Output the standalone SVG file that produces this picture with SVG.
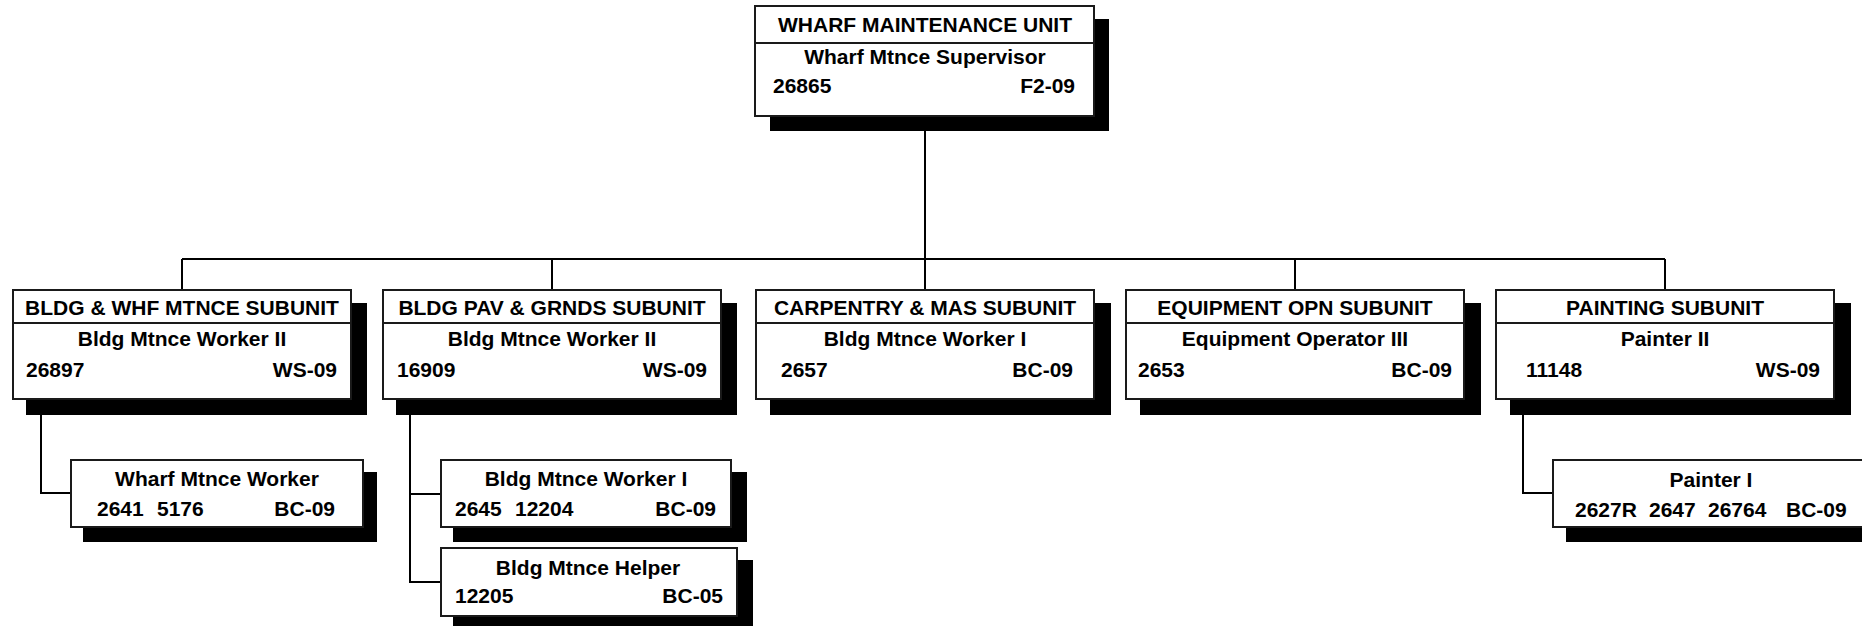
<svg xmlns="http://www.w3.org/2000/svg" width="1862" height="626" viewBox="0 0 1862 626">
<style>
.bg{fill:#ffffff}
.sh{fill:#000000}
.bx{fill:#ffffff;stroke:#1a1a1a;stroke-width:2}
.dv{stroke:#1a1a1a;stroke-width:2}
.cn{fill:none;stroke:#000000;stroke-width:2}
text{font-family:"Liberation Sans",Arial,sans-serif;font-weight:bold;font-size:21px;fill:#000000}
.c{text-anchor:middle}
.r{text-anchor:end}
</style>
<rect class="bg" x="0" y="0" width="1862" height="626"/>
<g id="connectors">
<path class="cn" d="M925 116 V259 M182 259 H1665 M182 259 V290 M552 259 V290 M925 259 V290 M1295 259 V290 M1665 259 V290"/>
<path class="cn" d="M41 399 V493 H71"/>
<path class="cn" d="M410 399 V582 H441 M410 494 H441"/>
<path class="cn" d="M1523 399 V493 H1553"/>
</g>
<g id="wharf-maintenance-unit">
<rect class="sh" x="770" y="19" width="339" height="112"/>
<rect class="bx" x="755" y="6" width="339" height="110"/>
<line class="dv" x1="755" y1="43" x2="1094" y2="43"/>
<text class="c" x="925" y="32">WHARF MAINTENANCE UNIT</text>
<text class="c" x="925" y="64">Wharf Mtnce Supervisor</text>
<text x="773" y="93">26865</text>
<text class="r" x="1075" y="93">F2-09</text>
</g>
<g id="bldg-whf-mtnce">
<rect class="sh" x="26" y="303" width="341" height="112"/>
<rect class="bx" x="13" y="290" width="338" height="109"/>
<line class="dv" x1="13" y1="323" x2="351" y2="323"/>
<text class="c" x="182" y="315">BLDG &amp; WHF MTNCE SUBUNIT</text>
<text class="c" x="182" y="346">Bldg Mtnce Worker II</text>
<text x="26" y="377">26897</text>
<text class="r" x="337" y="377">WS-09</text>
</g>
<g id="bldg-pav-grnds">
<rect class="sh" x="396" y="303" width="341" height="112"/>
<rect class="bx" x="383" y="290" width="338" height="109"/>
<line class="dv" x1="383" y1="323" x2="721" y2="323"/>
<text class="c" x="552" y="315">BLDG PAV &amp; GRNDS SUBUNIT</text>
<text class="c" x="552" y="346">Bldg Mtnce Worker II</text>
<text x="397" y="377">16909</text>
<text class="r" x="707" y="377">WS-09</text>
</g>
<g id="carpentry-mas">
<rect class="sh" x="770" y="303" width="341" height="112"/>
<rect class="bx" x="756" y="290" width="338" height="109"/>
<line class="dv" x1="756" y1="323" x2="1094" y2="323"/>
<text class="c" x="925" y="315">CARPENTRY &amp; MAS SUBUNIT</text>
<text class="c" x="925" y="346">Bldg Mtnce Worker I</text>
<text x="781" y="377">2657</text>
<text class="r" x="1073" y="377">BC-09</text>
</g>
<g id="equipment-opn">
<rect class="sh" x="1140" y="303" width="341" height="112"/>
<rect class="bx" x="1126" y="290" width="338" height="109"/>
<line class="dv" x1="1126" y1="323" x2="1464" y2="323"/>
<text class="c" x="1295" y="315">EQUIPMENT OPN SUBUNIT</text>
<text class="c" x="1295" y="346">Equipment Operator III</text>
<text x="1138" y="377">2653</text>
<text class="r" x="1452" y="377">BC-09</text>
</g>
<g id="painting">
<rect class="sh" x="1510" y="303" width="341" height="112"/>
<rect class="bx" x="1496" y="290" width="338" height="109"/>
<line class="dv" x1="1496" y1="323" x2="1834" y2="323"/>
<text class="c" x="1665" y="315">PAINTING SUBUNIT</text>
<text class="c" x="1665" y="346">Painter II</text>
<text x="1526" y="377">11148</text>
<text class="r" x="1820" y="377">WS-09</text>
</g>
<g id="wharf-mtnce-worker">
<rect class="sh" x="83" y="472" width="294" height="70"/>
<rect class="bx" x="71" y="460" width="292" height="67"/>
<text class="c" x="217" y="486">Wharf Mtnce Worker</text>
<text x="97" y="516">2641</text>
<text x="157" y="516">5176</text>
<text class="r" x="335" y="516">BC-09</text>
</g>
<g id="bldg-mtnce-worker-i">
<rect class="sh" x="453" y="472" width="294" height="70"/>
<rect class="bx" x="441" y="460" width="290" height="67"/>
<text class="c" x="586" y="486">Bldg Mtnce Worker I</text>
<text x="455" y="516">2645</text>
<text x="515" y="516">12204</text>
<text class="r" x="716" y="516">BC-09</text>
</g>
<g id="bldg-mtnce-helper">
<rect class="sh" x="453" y="560" width="300" height="70"/>
<rect class="bx" x="441" y="548" width="296" height="68"/>
<text class="c" x="588" y="575">Bldg Mtnce Helper</text>
<text x="455" y="603">12205</text>
<text class="r" x="723" y="603">BC-05</text>
</g>
<g id="painter-i">
<rect class="sh" x="1566" y="472" width="320" height="70"/>
<rect class="bx" x="1553" y="460" width="318" height="67"/>
<text class="c" x="1711" y="487">Painter I</text>
<text x="1575" y="517">2627R</text>
<text x="1649" y="517">2647</text>
<text x="1708" y="517">26764</text>
<text x="1786" y="517">BC-09</text>
</g>
</svg>
